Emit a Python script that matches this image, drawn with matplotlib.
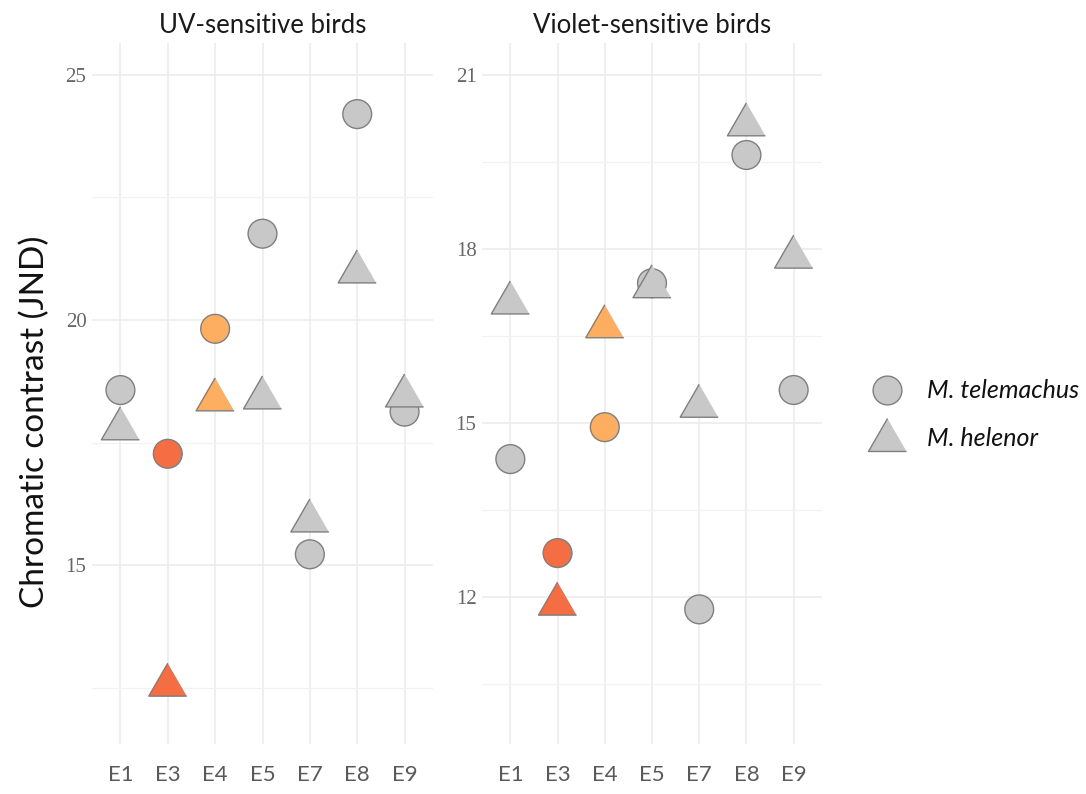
import numpy as np
import matplotlib
matplotlib.use("Agg")
import matplotlib.pyplot as plt

# sites on the x axis
sites = ["E1", "E3", "E4", "E5", "E7", "E8", "E9"]

# UV-sensitive birds
uv_telemachus = [18.57, 17.27, 19.82, 21.76, 15.22, 24.2, 18.13]
uv_helenor = [17.78, 12.55, 18.37, 18.41, 15.9, 20.98, 18.45]

# Violet-sensitive birds
vs_telemachus = [14.38, 12.76, 14.93, 17.41, 11.79, 19.62, 15.57]
vs_helenor = [17.07, 11.88, 16.66, 17.35, 15.29, 20.14, 17.86]

# highlighted sites
site_colors = {"E3": "#F46D43", "E4": "#FDAE61"}
base_color = "#C8C8C8"
edge_color = "#7F7F7F"

# R-style triangle (centroid at origin)
tri = [(0, 1.5551), (-1.3468, -0.7776), (1.3468, -0.7776)]

sans = "Lato"

fig = plt.figure(figsize=(10.86, 7.94), dpi=100)
W, H = 1086, 794


def add_panel(x0, x1, ylim, major, minor, title, tel, hel):
    ax = fig.add_axes([x0 / W, 1 - 744 / H, (x1 - x0) / W, (744 - 43) / H])
    xs = np.arange(len(sites))
    cols = [site_colors.get(s, base_color) for s in sites]
    ax.scatter(xs, tel, s=430, c=cols, edgecolors=edge_color, linewidths=1.0,
               marker="o", zorder=3)
    ax.scatter(xs, hel, s=1000, c=cols, edgecolors=edge_color, linewidths=1.0,
               marker=tri, zorder=4)
    ax.set_xlim(-0.6, 6.6)
    ax.set_ylim(*ylim)
    ax.set_xticks(xs)
    ax.set_xticklabels(sites, fontfamily=sans, fontsize=16, color="#595959")
    ax.set_yticks(major)
    ax.set_yticklabels([str(v) for v in major], fontfamily="Liberation Serif",
                       fontsize=15, color="#666666")
    ax.set_yticks(minor, minor=True)
    ax.grid(which="major", color="#EBEBEB", linewidth=1.1)
    ax.grid(which="minor", axis="y", color="#F2F2F2", linewidth=0.9)
    ax.set_axisbelow(True)
    for sp in ax.spines.values():
        sp.set_visible(False)
    ax.tick_params(which="both", length=0)
    ax.tick_params(axis="x", pad=15)
    ax.tick_params(axis="y", pad=4)
    ax.set_title(title, fontfamily=sans, fontsize=18.5, color="#1A1A1A", pad=7)
    return ax


add_panel(92, 433, (11.35, 25.65), [15, 20, 25], [12.5, 17.5, 22.5],
          "UV-sensitive birds", uv_telemachus, uv_helenor)
add_panel(482, 822, (9.47, 21.55), [12, 15, 18, 21], [10.5, 13.5, 16.5, 19.5],
          "Violet-sensitive birds", vs_telemachus, vs_helenor)

fig.text(35 / W, 1 - 422 / H, "Chromatic contrast (JND)", rotation=90,
         ha="center", va="center", fontfamily=sans, fontsize=24, color="#111111")

# legend
lax = fig.add_axes([850 / W, 1 - 470 / H, 230 / W, 110 / H])
lax.set_xlim(0, 230)
lax.set_ylim(110, 0)
lax.axis("off")
lax.scatter([37], [30], s=430, c=base_color, edgecolors=edge_color, linewidths=1.0,
            marker="o", clip_on=False)
lax.scatter([37], [80], s=1000, c=base_color, edgecolors=edge_color, linewidths=1.0,
            marker=tri, clip_on=False)
lax.text(77, 30, "M. telemachus", fontfamily=sans, style="italic", fontsize=18,
         va="center", ha="left", color="#111111")
lax.text(77, 78, "M. helenor", fontfamily=sans, style="italic", fontsize=18,
         va="center", ha="left", color="#111111")

fig.savefig("out.png", dpi=100, facecolor="white")
